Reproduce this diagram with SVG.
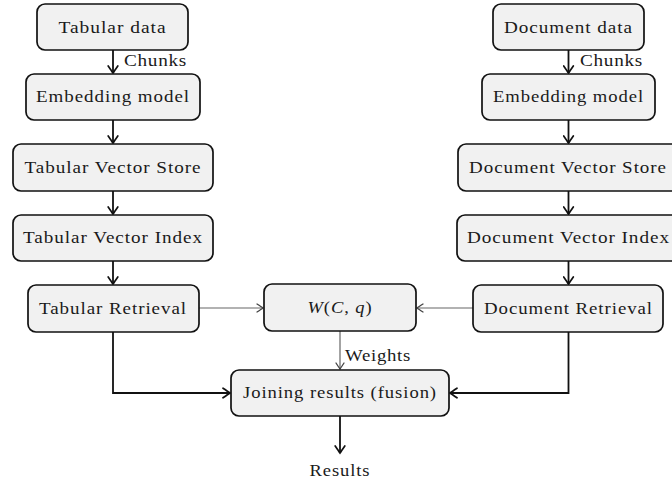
<svg xmlns="http://www.w3.org/2000/svg" width="672" height="482" viewBox="0 0 672 482">
  <defs>
    <style>
      .box { fill: #f1f1f1; stroke: #111; stroke-width: 1.7; }
      .lbl { font-family: "Liberation Serif", "DejaVu Serif", serif; font-size: 16px; letter-spacing: 0.8px; fill: #1a1a1a; text-anchor: middle; }
      .side { font-family: "Liberation Serif", "DejaVu Serif", serif; font-size: 16px; letter-spacing: 0.6px; fill: #1a1a1a; }
      .thick { fill: none; stroke: #111; stroke-width: 1.8; }
      .thin { fill: none; stroke: #666; stroke-width: 1.2; }
    </style>
    <marker id="ah" viewBox="-8 -6 10 12" refX="0" refY="0" markerWidth="10" markerHeight="12" markerUnits="userSpaceOnUse" orient="auto">
      <path d="M -7 -4.8 Q -1.8 -1.3 0 0 Q -1.8 1.3 -7 4.8" fill="none" stroke="#111" stroke-width="1.7" stroke-linecap="round"/>
    </marker>
    <marker id="ahg" viewBox="-7 -5 9 10" refX="0" refY="0" markerWidth="9" markerHeight="10" markerUnits="userSpaceOnUse" orient="auto">
      <path d="M -6 -4 Q -1.5 -1.1 0 0 Q -1.5 1.1 -6 4" fill="none" stroke="#444" stroke-width="1.3" stroke-linecap="round"/>
    </marker>
  </defs>
  <rect width="672" height="482" fill="#fff"/>

  <!-- connectors -->
  <g id="edges">
    <line class="thick" x1="113" y1="50" x2="113" y2="73" marker-end="url(#ah)"/>
    <line class="thick" x1="113" y1="120" x2="113" y2="143" marker-end="url(#ah)"/>
    <line class="thick" x1="113" y1="191" x2="113" y2="214" marker-end="url(#ah)"/>
    <line class="thick" x1="113" y1="261" x2="113" y2="284" marker-end="url(#ah)"/>
    <line class="thick" x1="568.5" y1="50" x2="568.5" y2="73" marker-end="url(#ah)"/>
    <line class="thick" x1="568.5" y1="120" x2="568.5" y2="143" marker-end="url(#ah)"/>
    <line class="thick" x1="568.5" y1="191" x2="568.5" y2="214" marker-end="url(#ah)"/>
    <line class="thick" x1="568.5" y1="261" x2="568.5" y2="284" marker-end="url(#ah)"/>
    <line class="thin" x1="199" y1="308" x2="263" y2="308" marker-end="url(#ahg)"/>
    <line class="thin" x1="473" y1="308" x2="417" y2="308" marker-end="url(#ahg)"/>
    <line class="thin" x1="340" y1="331" x2="340" y2="369" marker-end="url(#ahg)"/>
    <polyline class="thick" points="113,332 113,393 230,393" marker-end="url(#ah)"/>
    <polyline class="thick" points="568.5,332 568.5,393 450,393" marker-end="url(#ah)"/>
    <line class="thick" x1="340" y1="416" x2="340" y2="453" marker-end="url(#ah)"/>
    <text class="side" x="124" y="66" textLength="63" lengthAdjust="spacingAndGlyphs">Chunks</text>
    <text class="side" x="580" y="66" textLength="63" lengthAdjust="spacingAndGlyphs">Chunks</text>
    <text class="side" x="345" y="361" textLength="66" lengthAdjust="spacingAndGlyphs">Weights</text>
    <text class="lbl" x="340" y="476" textLength="61" lengthAdjust="spacingAndGlyphs">Results</text>
  </g>

  <!-- tabular branch -->
  <g id="tabular-data">
    <rect class="box" x="37" y="4" width="151" height="46" rx="8"/>
    <text class="lbl" x="112.5" y="33" textLength="108" lengthAdjust="spacingAndGlyphs">Tabular data</text>
  </g>
  <g id="tabular-embedding">
    <rect class="box" x="26" y="74" width="174" height="46" rx="8"/>
    <text class="lbl" x="113" y="102" textLength="154" lengthAdjust="spacingAndGlyphs">Embedding model</text>
  </g>
  <g id="tabular-store">
    <rect class="box" x="13" y="144" width="200" height="47" rx="8"/>
    <text class="lbl" x="113" y="173" textLength="177" lengthAdjust="spacingAndGlyphs">Tabular Vector Store</text>
  </g>
  <g id="tabular-index">
    <rect class="box" x="13" y="215" width="200" height="46" rx="8"/>
    <text class="lbl" x="113" y="243" textLength="180" lengthAdjust="spacingAndGlyphs">Tabular Vector Index</text>
  </g>
  <g id="tabular-retrieval">
    <rect class="box" x="28" y="285" width="171" height="47" rx="8"/>
    <text class="lbl" x="113" y="314" textLength="148" lengthAdjust="spacingAndGlyphs">Tabular Retrieval</text>
  </g>

  <!-- document branch -->
  <g id="document-data">
    <rect class="box" x="493" y="4" width="151" height="46" rx="8"/>
    <text class="lbl" x="568.5" y="33" textLength="129" lengthAdjust="spacingAndGlyphs">Document data</text>
  </g>
  <g id="document-embedding">
    <rect class="box" x="482" y="74" width="173" height="46" rx="8"/>
    <text class="lbl" x="568.5" y="102" textLength="151" lengthAdjust="spacingAndGlyphs">Embedding model</text>
  </g>
  <g id="document-store">
    <rect class="box" x="458" y="144" width="222" height="47" rx="8"/>
    <text class="lbl" x="568" y="173" textLength="198" lengthAdjust="spacingAndGlyphs">Document Vector Store</text>
  </g>
  <g id="document-index">
    <rect class="box" x="457" y="215" width="224" height="46" rx="8"/>
    <text class="lbl" x="568.5" y="243" textLength="203" lengthAdjust="spacingAndGlyphs">Document Vector Index</text>
  </g>
  <g id="document-retrieval">
    <rect class="box" x="473" y="285" width="190" height="47" rx="8"/>
    <text class="lbl" x="568.5" y="314" textLength="169" lengthAdjust="spacingAndGlyphs">Document Retrieval</text>
  </g>

  <!-- weighting and fusion -->
  <g id="weighting">
    <rect class="box" x="264" y="284" width="152" height="47" rx="8"/>
    <text class="lbl" x="340" y="313" textLength="65" lengthAdjust="spacingAndGlyphs"><tspan font-style="italic">W</tspan>(<tspan font-style="italic">C</tspan>, <tspan font-style="italic">q</tspan>)</text>
  </g>
  <g id="fusion">
    <rect class="box" x="231" y="370" width="218" height="46" rx="8"/>
    <text class="lbl" x="340" y="398" textLength="194" lengthAdjust="spacingAndGlyphs">Joining results (fusion)</text>
  </g>
</svg>
